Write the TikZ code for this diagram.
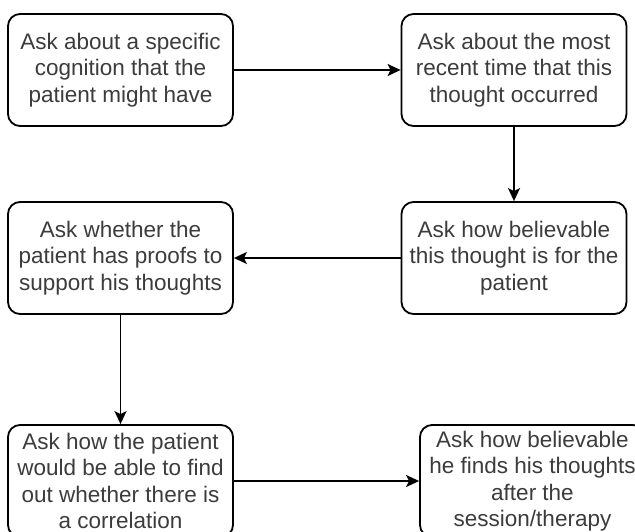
\documentclass[tikz,border=0pt]{standalone}
\usepackage{fontspec}
\setmainfont{Liberation Sans}
\usetikzlibrary{arrows.meta}
\definecolor{txtgray}{RGB}{60,60,60}
\begin{document}
\begin{tikzpicture}[x=1pt,y=-1pt,
  stepbox/.style={draw=black, line width=1.8pt, rounded corners=12pt,
    minimum width=225pt, minimum height=112pt, inner sep=0pt, align=center,
    text=txtgray, font=\fontsize{22.5}{26.5}\selectfont},
  link/.style={draw=black, line width=1.8pt, -{Stealth[length=13pt,width=12pt,inset=3pt]}}]
\useasboundingbox (0,0) rectangle (635,531);
\clip (0,0) rectangle (635,531);
\fill[white] (0,0) rectangle (635,531);

\node[stepbox] (cog)   at (120.5,70)  {Ask about a specific\\cognition that the\\patient might have};
\node[stepbox] (rec)   at (514,70)    {Ask about the most\\recent time that this\\thought occurred};
\node[stepbox] (bel)   at (514,258)   {Ask how believable\\this thought is for the\\patient};
\node[stepbox] (proof) at (120.5,258) {Ask whether the\\patient has proofs to\\support his thoughts};
\node[stepbox] (corr)  at (120.5,481) {Ask how the patient\\would be able to find\\out whether there is\\a correlation};
\node[stepbox] (after) at (532.5,481) {Ask how believable\\he finds his thoughts\\after the\\session/therapy};

\draw[link] (cog) -- (rec);
\draw[link] (rec) -- (bel);
\draw[link] (bel) -- (proof);
\draw[link] (proof) -- (corr);
\draw[link] (corr) -- (after);
\end{tikzpicture}
\end{document}
